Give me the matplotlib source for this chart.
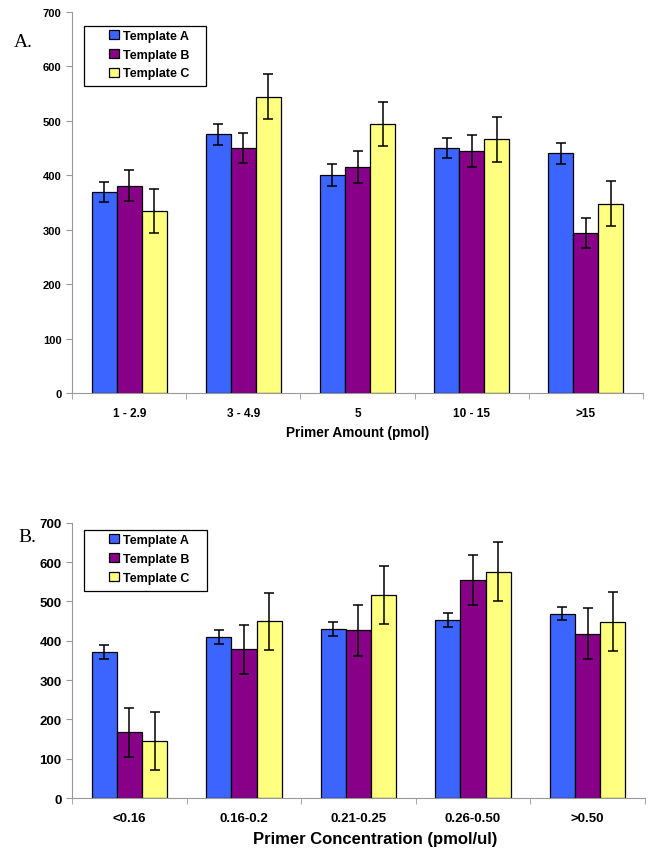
import numpy as np
import matplotlib
matplotlib.use('Agg')
import matplotlib.pyplot as plt
from matplotlib.patches import Rectangle

plt.rcParams['font.family'] = ['Liberation Sans', 'DejaVu Sans']

series = ['Template A', 'Template B', 'Template C']
colors = ['#3c64ff', '#880088', '#ffff80']

cats_a = ['1 - 2.9', '3 - 4.9', '5', '10 - 15', '>15']
a_vals = [[369, 475, 400, 450, 440],
          [381, 450, 415, 444, 294],
          [334, 544, 494, 466, 348]]
a_errs = [[19, 19, 20, 19, 19],
          [29, 28, 29, 29, 28],
          [41, 41, 41, 41, 41]]

cats_b = ['<0.16', '0.16-0.2', '0.21-0.25', '0.26-0.50', '>0.50']
b_vals = [[371, 409, 430, 452, 469],
          [167, 378, 427, 555, 418],
          [145, 449, 517, 575, 448]]
b_errs = [[17, 18, 17, 18, 16],
          [63, 63, 65, 64, 64],
          [74, 73, 74, 75, 75]]


def panel(ax, cats, vals, errs, xlabel, xlsize, ticksize, ysize, legpos, box):
    x = np.arange(len(cats))
    w = 0.22
    for i in range(3):
        ax.bar(x + (i - 1) * w, vals[i], w, yerr=errs[i], color=colors[i],
               edgecolor='black', linewidth=0.9, label=series[i],
               error_kw=dict(ecolor='black', elinewidth=1.1, capsize=3.5, capthick=1.1))
    ax.set_xlim(-0.5, len(cats) - 0.5)
    ax.set_ylim(0, 700)
    ax.set_yticks(range(0, 701, 100))
    ax.set_xticks(x)
    ax.set_xticklabels(cats, fontsize=ticksize, fontweight='bold')
    ax.tick_params(axis='x', which='major', length=0, pad=10)
    ax.set_xticks(np.arange(-0.5, len(cats), 1), minor=True)
    ax.tick_params(axis='x', which='minor', length=4, color='#999999')
    ax.tick_params(axis='y', length=4, color='#999999', labelsize=ysize)
    for t in ax.get_yticklabels():
        t.set_fontweight('bold')
    for s in ['top', 'right']:
        ax.spines[s].set_visible(False)
    for s in ['left', 'bottom']:
        ax.spines[s].set_color('#999999')
    ax.set_xlabel(xlabel, fontsize=xlsize, fontweight='bold', labelpad=4)
    ax.legend(loc='upper left', bbox_to_anchor=legpos, frameon=False,
              prop=dict(size=9, weight='bold'),
              handlelength=0.75, handleheight=0.75, handletextpad=0.35,
              borderpad=0, labelspacing=0.55, borderaxespad=0)
    ax.add_patch(Rectangle((box[0], box[1]), box[2], box[3], transform=ax.transAxes,
                           fill=False, edgecolor='black', linewidth=0.9, clip_on=False))


fig = plt.figure(figsize=(6.5, 8.53), dpi=100)
ax1 = fig.add_axes([0.111, 0.538, 0.878, 0.447])
ax2 = fig.add_axes([0.111, 0.0633, 0.881, 0.3227])

panel(ax1, cats_a, a_vals, a_errs, 'Primer Amount (pmol)', 9.8, 8.5, 8,
      (0.065, 0.953), (0.021, 0.806, 0.214, 0.157))
panel(ax2, cats_b, b_vals, b_errs, 'Primer Concentration (pmol/ul)', 12, 9.5, 9.5,
      (0.065, 0.96), (0.021, 0.753, 0.214, 0.222))
ax2.xaxis.set_label_coords(0.53, -0.12)

fig.text(0.022, 0.945, 'A.', family='Liberation Serif', fontsize=14)
fig.text(0.028, 0.365, 'B.', family='Liberation Serif', fontsize=14)

fig.savefig('out.png', dpi=100)
